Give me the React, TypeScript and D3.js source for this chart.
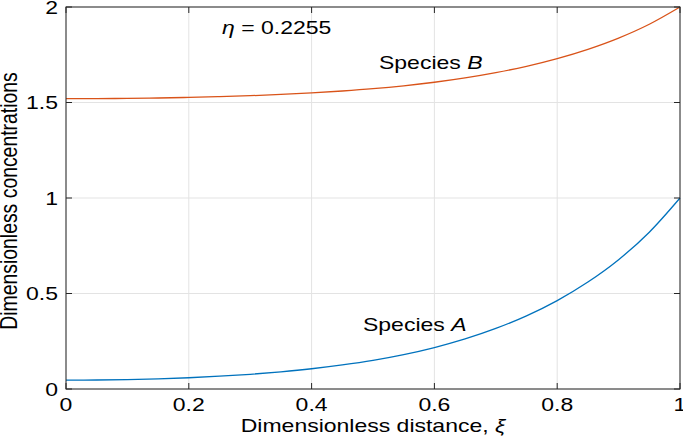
import React, { useEffect, useRef } from 'react';
import * as d3 from 'd3';

// distance along xi at 0.05 steps
const xi = [0, 0.05, 0.1, 0.15, 0.2, 0.25, 0.3, 0.35, 0.4, 0.45, 0.5, 0.55, 0.6, 0.65, 0.7, 0.75, 0.8, 0.85, 0.9, 0.95, 1];
const speciesA = [0.046, 0.047, 0.049, 0.053, 0.059, 0.067, 0.077, 0.09, 0.106, 0.126, 0.15, 0.18, 0.217, 0.262, 0.317, 0.383, 0.463, 0.56, 0.677, 0.821, 1.0];
const speciesB = [1.52, 1.5205, 1.5215, 1.5236, 1.5266, 1.5306, 1.5356, 1.5422, 1.5502, 1.5603, 1.5723, 1.5874, 1.606, 1.6287, 1.6563, 1.6895, 1.7298, 1.7785, 1.8374, 1.9098, 2.0];
const xTicks = [0, 0.2, 0.4, 0.6, 0.8, 1];
const yTicks = [0, 0.5, 1, 1.5, 2];

const FONT = '"Liberation Sans", Arial, Helvetica, sans-serif';
const FS = 18.4;
const SX = 1.25; // text in the picture is stretched sideways

const App: React.FC = () => {
  const svgRef = useRef<SVGSVGElement>(null);

  useEffect(() => {
    if (!svgRef.current) return;
    const width = 683;
    const height = 436;
    const m = { left: 66, right: 3, top: 7, bottom: 47 };

    const svg = d3.select(svgRef.current);
    svg.selectAll('*').remove();
    svg.attr('width', width).attr('height', height);

    svg.append('rect').attr('width', width).attr('height', height).attr('fill', 'white');

    const x = d3.scaleLinear().domain([0, 1]).range([m.left, width - m.right]);
    const y = d3.scaleLinear().domain([0, 2]).range([height - m.bottom, m.top]);

    // grid
    const grid = svg.append('g').attr('stroke', '#e3e3e3').attr('stroke-width', 1);
    xTicks.forEach(t => {
      grid.append('line').attr('x1', x(t)).attr('x2', x(t)).attr('y1', y(0)).attr('y2', y(2));
    });
    yTicks.forEach(t => {
      grid.append('line').attr('x1', x(0)).attr('x2', x(1)).attr('y1', y(t)).attr('y2', y(t));
    });

    // curves
    const line = d3.line<number>()
      .x((_, i) => x(xi[i]))
      .curve(d3.curveMonotoneX);

    svg.append('path')
      .attr('d', line.y(d => y(d))(speciesA) as string)
      .attr('fill', 'none')
      .attr('stroke', '#0072BD')
      .attr('stroke-width', 1.3);

    svg.append('path')
      .attr('d', line.y(d => y(d))(speciesB) as string)
      .attr('fill', 'none')
      .attr('stroke', '#D95319')
      .attr('stroke-width', 1.3);

    // axes with inward ticks on all sides
    const ax = '#262626';
    const tl = 6;
    const axes = svg.append('g').attr('stroke', ax).attr('stroke-width', 1);
    axes.append('rect')
      .attr('x', x(0)).attr('y', y(2))
      .attr('width', x(1) - x(0)).attr('height', y(0) - y(2))
      .attr('fill', 'none');
    xTicks.forEach(t => {
      axes.append('line').attr('x1', x(t)).attr('x2', x(t)).attr('y1', y(0)).attr('y2', y(0) - tl);
      axes.append('line').attr('x1', x(t)).attr('x2', x(t)).attr('y1', y(2)).attr('y2', y(2) + tl);
    });
    yTicks.forEach(t => {
      axes.append('line').attr('x1', x(0)).attr('x2', x(0) + tl).attr('y1', y(t)).attr('y2', y(t));
      axes.append('line').attr('x1', x(1)).attr('x2', x(1) - tl).attr('y1', y(t)).attr('y2', y(t));
    });

    const addText = (px: number, py: number, anchor: string, rotate = 0, fs = FS) =>
      svg.append('text')
        .attr('transform', `translate(${px},${py}) scale(${SX},1)${rotate ? ` rotate(${rotate})` : ''}`)
        .attr('text-anchor', anchor)
        .attr('font-family', FONT)
        .attr('font-size', fs)
        .attr('fill', 'black');

    // tick labels
    xTicks.forEach(t => {
      addText(x(t), 411, 'middle').text(d3.format('~g')(t));
    });
    yTicks.forEach(t => {
      addText(58, y(t) + 6.5, 'end').text(d3.format('~g')(t));
    });

    // axis titles
    const xl = addText((x(0) + x(1)) / 2, 432, 'middle');
    xl.append('tspan').text('Dimensionless distance, ');
    xl.append('tspan').attr('font-style', 'italic').text('ξ');

    addText(17, 201, 'middle', -90, 19.4).text('Dimensionless concentrations');

    // annotations
    const eta = addText(222, 34, 'start');
    eta.append('tspan').attr('font-style', 'italic').text('η');
    eta.append('tspan').text(' = 0.2255');

    const sb = addText(379, 69, 'start');
    sb.append('tspan').text('Species ');
    sb.append('tspan').attr('font-style', 'italic').text('B');

    const sa = addText(363, 331, 'start');
    sa.append('tspan').text('Species ');
    sa.append('tspan').attr('font-style', 'italic').text('A');
  }, []);

  return (
    <div style={{ position: 'fixed', left: 0, top: 0 }}>
      <svg ref={svgRef} style={{ display: 'block' }}></svg>
    </div>
  );
};

export default App;
